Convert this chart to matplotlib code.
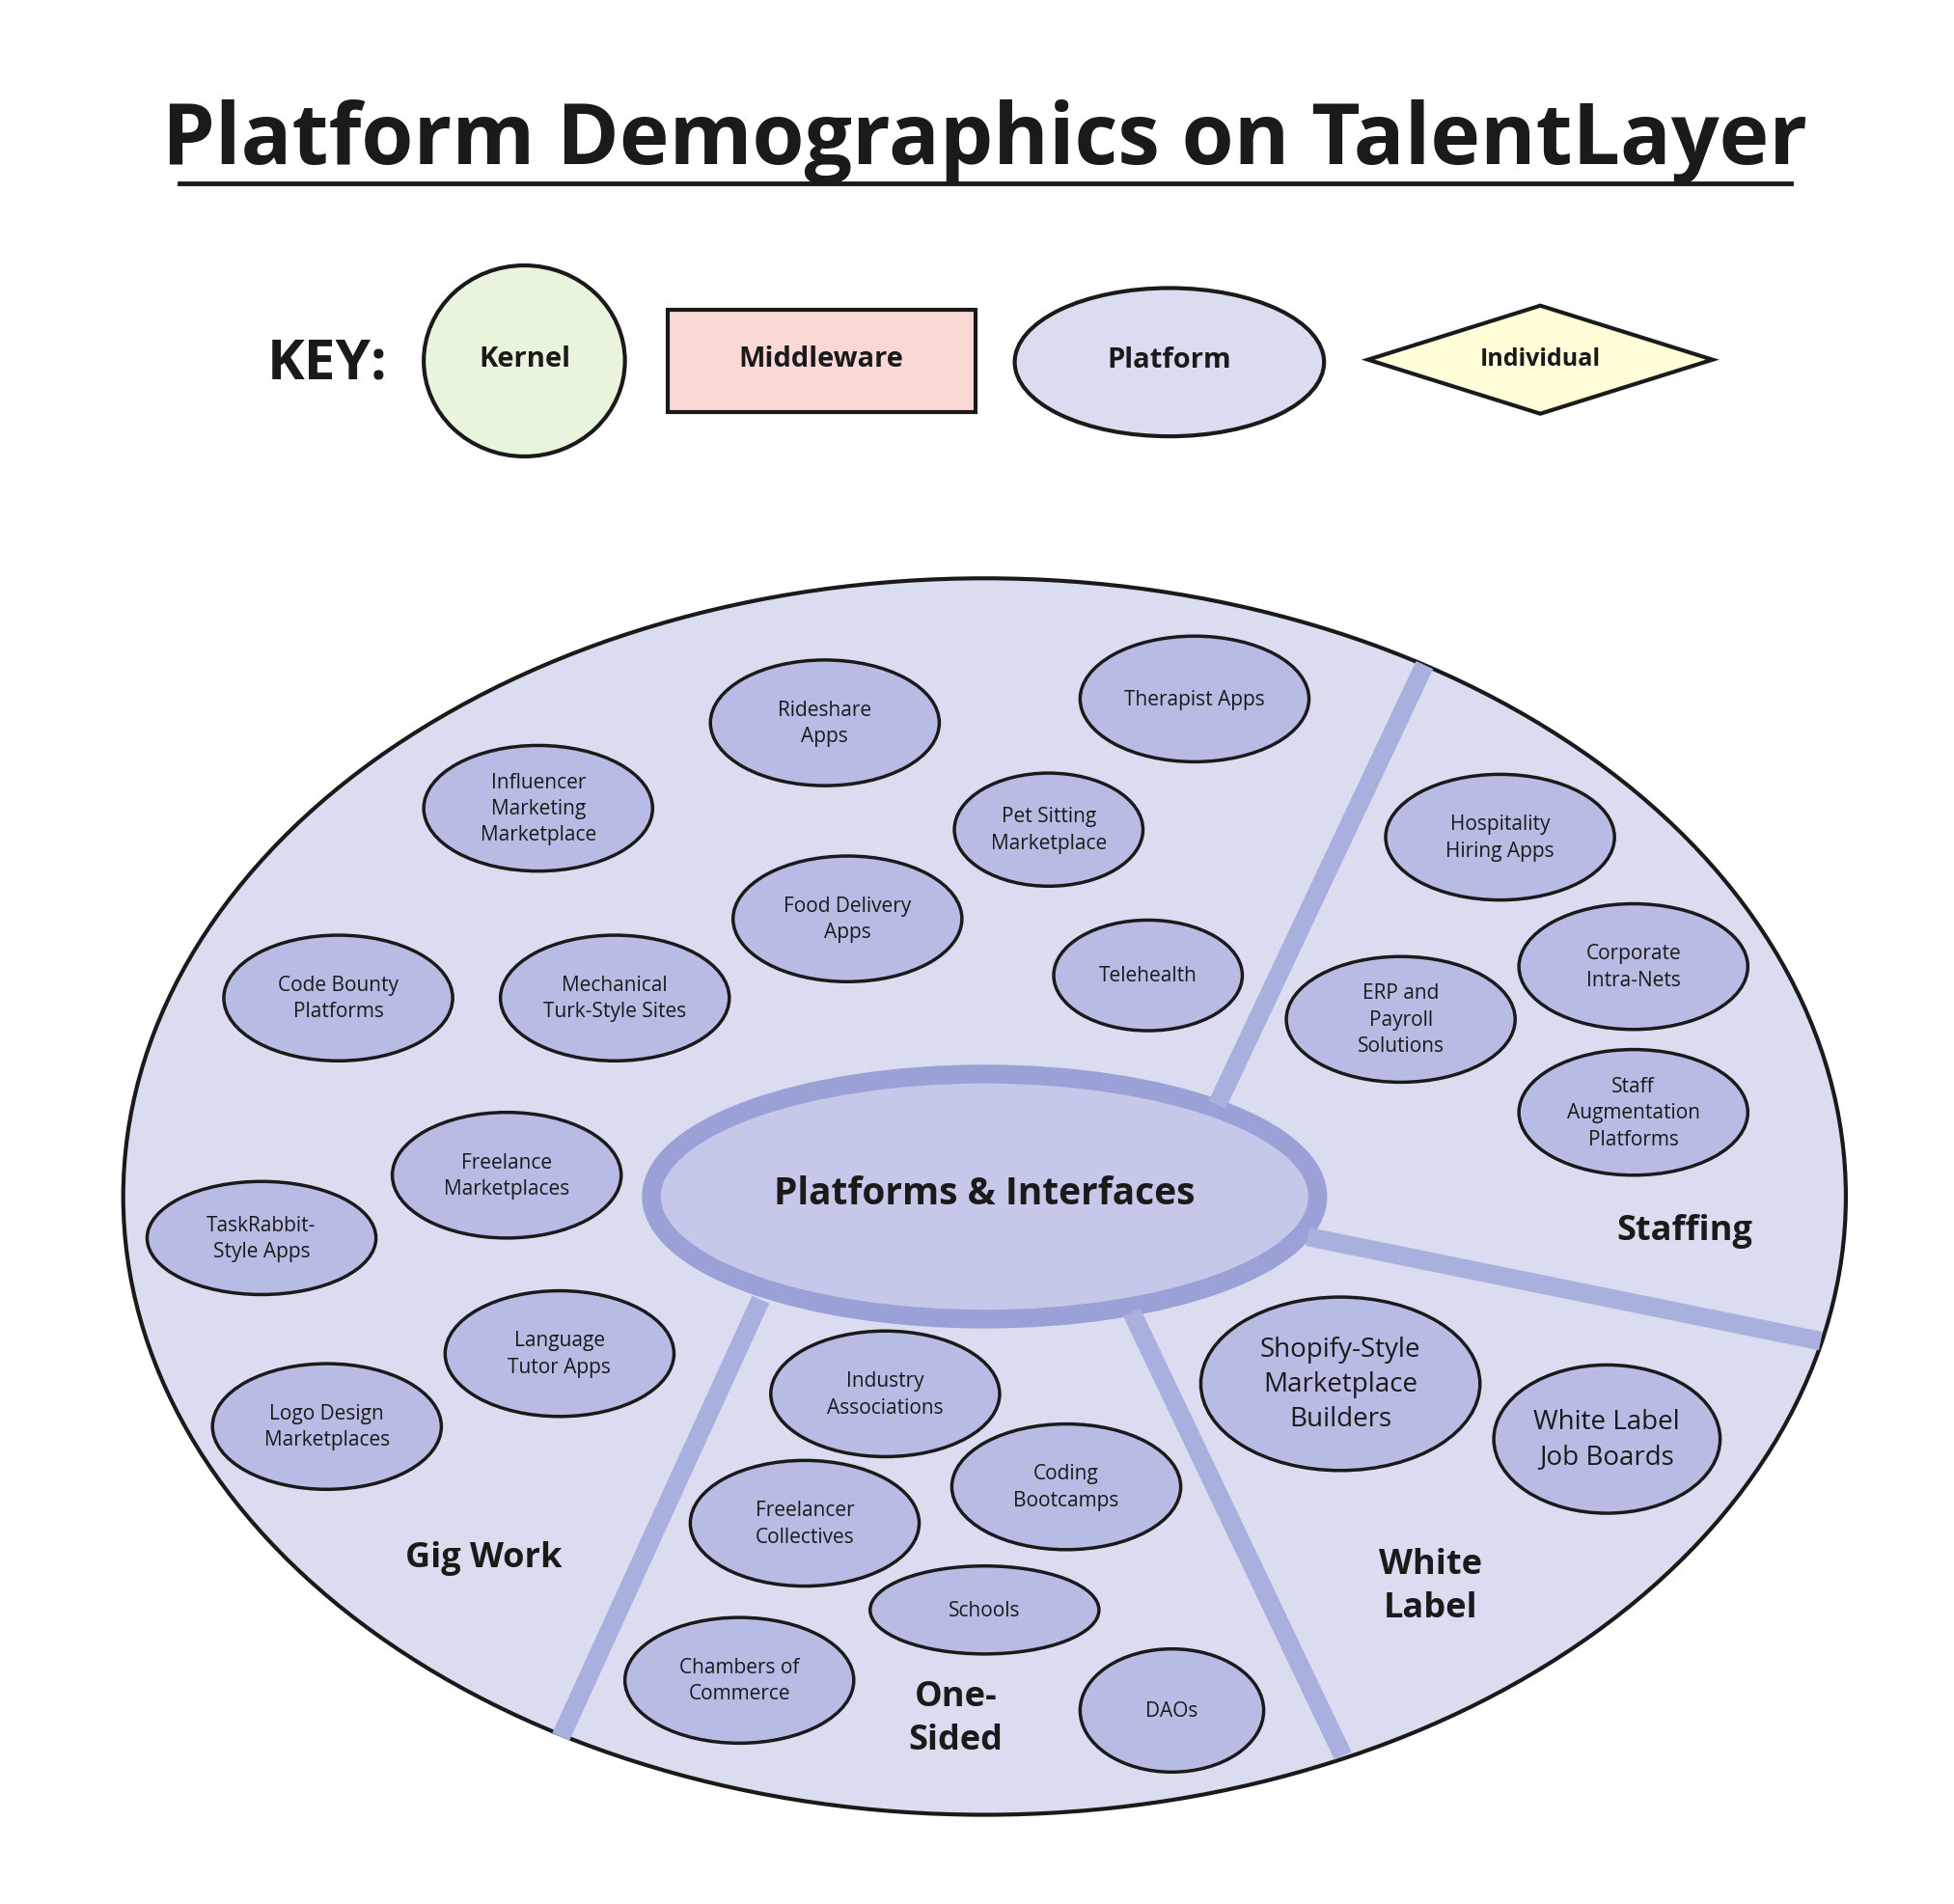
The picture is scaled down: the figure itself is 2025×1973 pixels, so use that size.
import matplotlib.pyplot as plt
from matplotlib.patches import Ellipse, Rectangle, Polygon

plt.rcParams['font.family'] = ['Open Sans', 'DejaVu Sans']

# node labels
labels = ["Rideshare\nApps", "Therapist Apps", "Influencer\nMarketing\nMarketplace",
          "Pet Sitting\nMarketplace", "Hospitality\nHiring Apps", "Food Delivery\nApps",
          "Telehealth", "Corporate\nIntra-Nets", "Code Bounty\nPlatforms",
          "Mechanical\nTurk-Style Sites", "ERP and\nPayroll\nSolutions",
          "Staff\nAugmentation\nPlatforms", "Freelance\nMarketplaces",
          "TaskRabbit-\nStyle Apps", "Language\nTutor Apps", "Logo Design\nMarketplaces",
          "Industry\nAssociations", "Shopify-Style\nMarketplace\nBuilders",
          "White Label\nJob Boards", "Coding\nBootcamps", "Freelancer\nCollectives",
          "Schools", "Chambers of\nCommerce", "DAOs"]
sections = ["Staffing", "Gig Work", "White\nLabel", "One-\nSided"]
key_names = ["Kernel", "Middleware", "Platform", "Individual"]

# layout (image pixel coords of the 1554-wide view)
pos = [(656, 576), (950, 557), (428, 644), (834, 661), (1193, 667), (674, 732),
       (913, 777), (1299, 770), (269, 795), (489, 795), (1114, 812), (1299, 886),
       (403, 936), (208, 986), (445, 1078), (260, 1136), (704, 1110), (1066, 1102),
       (1278, 1146), (848, 1184), (640, 1213), (783, 1282), (588, 1338), (932, 1362)]
sizes = {3: (150, 90), 6: (150, 88), 13: (182, 90), 17: (222, 138), 18: (180, 118),
         21: (182, 70), 23: (146, 98)}
sec_pos = [(1340, 980), (385, 1240), (1138, 1263), (760, 1368)]

fig = plt.figure(figsize=(20.25, 19.74), dpi=100)
ax = fig.add_axes([0, 0, 1, 1])
ax.set_xlim(0, 1554)
ax.set_ylim(1516, 0)
ax.axis('off')

ax.text(783, 113, "Platform Demographics on TalentLayer", ha='center', va='center',
        fontsize=63, fontweight='bold', color='#1a1a1a')
ax.plot([143, 1424], [147, 147], color='#1a1a1a', lw=3.5)

ax.text(260, 290, "KEY:", ha='center', va='center', fontsize=42, fontweight='bold', color='#1a1a1a')
ax.add_patch(Ellipse((417, 288), 160, 152, fc='#e8f5dc', ec='#1a1a1a', lw=3))
ax.add_patch(Rectangle((531, 247), 245, 82, fc='#fad9d5', ec='#1a1a1a', lw=3))
ax.add_patch(Ellipse((930, 289), 246, 118, fc='#dadcf0', ec='#1a1a1a', lw=3))
ax.add_patch(Polygon([(1088, 287), (1225, 244), (1362, 287), (1225, 330)],
                     fc='#fffed8', ec='#1a1a1a', lw=3))
for (x, y), n, fs in zip([(417, 286), (653, 286), (930, 287), (1225, 286)], key_names,
                         [21, 21, 21, 18]):
    ax.text(x, y, n, ha='center', va='center', fontsize=fs, fontweight='bold', color='#1a1a1a')

ax.add_patch(Ellipse((783, 953), 1370, 984, fc='#dadcf0', ec='#1a1a1a', lw=3))
for x0, y0, x1, y1 in [(1133, 530, 968, 880), (1040, 985, 1448, 1068),
                       (900, 1045, 1068, 1398), (605, 1035, 446, 1383)]:
    ax.plot([x0, x1], [y0, y1], color='#aab0dd', lw=14, solid_capstyle='butt')
ax.add_patch(Ellipse((783, 953), 530, 195, fc='#c5c8e8', ec='#9ba1d6', lw=14))
ax.text(783, 950, "Platforms & Interfaces", ha='center', va='center', fontsize=28,
        fontweight='bold', color='#1a1a1a')

for i, (lab, (x, y)) in enumerate(zip(labels, pos)):
    w, h = sizes.get(i, (182, 100))
    ax.add_patch(Ellipse((x, y), w, h, fc='#b8bbe3', ec='#1a1a1a', lw=2.5))
    fs = 20 if i in (17, 18) else 15
    ax.text(x, y, lab, ha='center', va='center', fontsize=fs, color='#1a1a1a', linespacing=1.4)

for s, (x, y) in zip(sections, sec_pos):
    ax.text(x, y, s, ha='center', va='center', fontsize=26, fontweight='bold',
            color='#1a1a1a', linespacing=1.35)

fig.savefig('out.png', dpi=100)
